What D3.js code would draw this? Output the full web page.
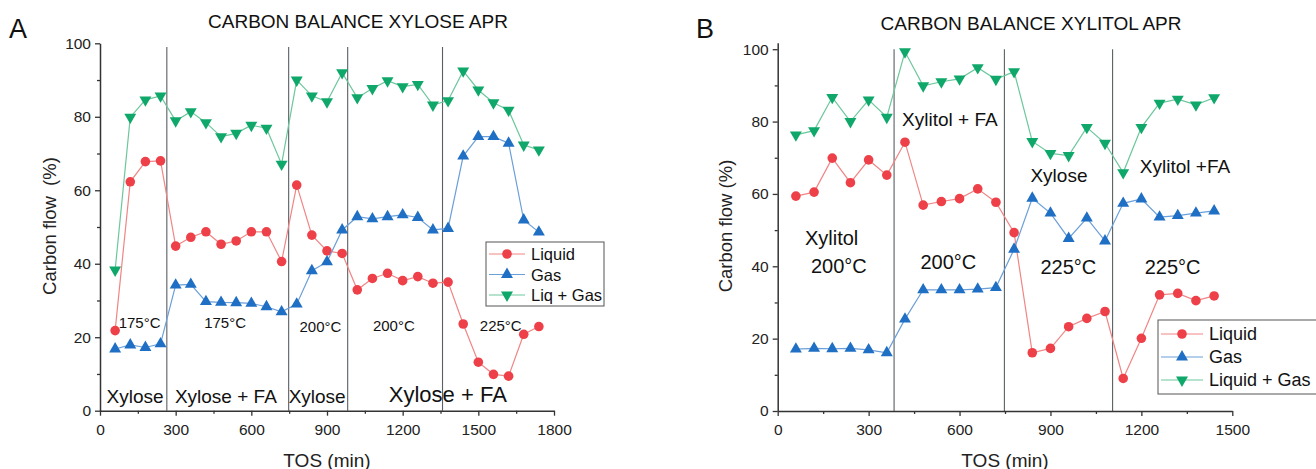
<!DOCTYPE html>
<html>
<head>
<meta charset="utf-8">
<script src="https://cdn.jsdelivr.net/npm/d3@7"></script>
<style>
  body { margin: 0; background: #fff; }
  svg { font-family: "Liberation Sans", Arial, sans-serif; }
</style>
</head>
<body>
<svg id="chart" width="1316" height="469"></svg>
<script>
// Panel A: xylose feed
const tosA = d3.range(60, 1741, 60);
const liquidA = [21.8, 62.3, 67.8, 68.0, 44.8, 47.2, 48.7, 45.3, 46.2, 48.7, 48.7, 40.6,
  61.4, 47.8, 43.5, 42.8, 32.9, 36.0, 37.4, 35.4, 36.5, 34.7, 35.0, 23.6, 13.2, 9.9, 9.4, 20.8, 22.9];
const gasA = [16.8, 17.9, 17.2, 18.2, 34.2, 34.4, 29.7, 29.5, 29.4, 29.2, 28.3, 26.9,
  29.0, 38.1, 40.5, 49.2, 52.8, 52.2, 52.8, 53.3, 52.6, 49.2, 49.6, 69.3, 74.6, 74.6, 72.8, 51.9, 48.6];
const totalA = [38.3, 79.9, 84.6, 85.7, 78.9, 81.4, 78.4, 74.6, 75.5, 77.7, 76.9, 67.1,
  90.0, 85.7, 84.1, 92.0, 85.2, 87.7, 89.8, 88.2, 88.8, 83.2, 84.4, 92.5, 87.3, 83.8, 81.8, 72.3, 71.0];
const dividersA = [265, 748, 982, 1358];
const notesA = [
  { text: "175°C", x: 157, y: 23.9, size: 15 },
  { text: "175°C", x: 496, y: 23.9, size: 15 },
  { text: "200°C", x: 874, y: 22.9, size: 15 },
  { text: "200°C", x: 1165, y: 23.3, size: 15 },
  { text: "225°C", x: 1589, y: 23.3, size: 15 },
  { text: "Xylose", x: 139, y: 3.8, size: 19 },
  { text: "Xylose + FA", x: 499, y: 3.8, size: 19 },
  { text: "Xylose", x: 861, y: 3.8, size: 19 },
  { text: "Xylose + FA", x: 1379, y: 4.3, size: 22 }
];

// Panel B: xylitol feed
const tosB = d3.range(60, 1441, 60);
const liquidB = [59.4, 60.5, 69.9, 63.1, 69.4, 65.2, 74.3, 56.9, 57.9, 58.7, 61.4, 57.7,
  49.3, 16.1, 17.3, 23.3, 25.6, 27.5, 9.0, 20.1, 32.1, 32.5, 30.5, 31.8];
const gasB = [17.1, 17.3, 17.2, 17.3, 16.9, 16.1, 25.4, 33.5, 33.5, 33.5, 33.7, 34.1,
  44.7, 58.8, 54.7, 47.7, 53.3, 47.0, 57.4, 58.6, 53.6, 54.0, 54.7, 55.3];
const totalB = [76.3, 77.5, 86.7, 80.0, 86.0, 81.2, 99.3, 89.9, 91.0, 91.8, 94.9, 91.7,
  93.8, 74.5, 71.2, 70.6, 78.4, 74.0, 65.9, 78.4, 85.1, 86.2, 84.6, 86.6];
const dividersB = [384, 748, 1105];
const notesB = [
  { text: "Xylitol", x: 178, y: 47.8, size: 20 },
  { text: "200°C", x: 202, y: 40.1, size: 20 },
  { text: "200°C", x: 563, y: 41.3, size: 20 },
  { text: "Xylitol + FA", x: 568, y: 80.5, size: 19 },
  { text: "Xylose", x: 928, y: 65.2, size: 19 },
  { text: "225°C", x: 959, y: 39.7, size: 20 },
  { text: "225°C", x: 1303, y: 39.8, size: 20 },
  { text: "Xylitol +FA", x: 1344, y: 67.5, size: 19 }
];

const styles = [
  { marker: "#ee4048", line: "#f18585", shape: "circle" },
  { marker: "#1f6fc4", line: "#6b9fd9", shape: "up" },
  { marker: "#0fa86a", line: "#6cc79c", shape: "down" }
];

const svg = d3.select("#chart");

function marker(g, shape, color) {
  if (shape === "circle") {
    return g.append("circle").attr("r", 4.8).attr("fill", color);
  }
  return g.append("path")
    .attr("d", d3.symbol(d3.symbolTriangle, 62)())
    .attr("transform", shape === "down" ? "rotate(180)" : null)
    .attr("fill", color);
}

function drawPanel(o) {
  const x = d3.scaleLinear().domain([0, o.xMax]).range(o.xRange);
  const y = d3.scaleLinear().domain([0, o.yMax]).range(o.yRange);
  const g = svg.append("g");

  // dividers between feed periods
  g.selectAll(".div").data(o.dividers).join("line")
    .attr("x1", d => x(d)).attr("x2", d => x(d))
    .attr("y1", y(o.divTop)).attr("y2", y(0))
    .attr("stroke", "#5a5f63").attr("stroke-width", 1.1);

  // axes: major + minor ticks
  const xMinor = g.append("g").attr("transform", `translate(0,${y(0)})`)
    .call(d3.axisBottom(x).tickValues(d3.range(150, o.xMax, 300)).tickSize(3).tickFormat(""));
  const xAxis = g.append("g").attr("transform", `translate(0,${y(0)})`)
    .call(d3.axisBottom(x).tickValues(d3.range(0, o.xMax + 1, 300)).tickFormat(d3.format("d"))
      .tickSize(5).tickSizeOuter(0).tickPadding(8));
  const yMinor = g.append("g").attr("transform", `translate(${x(0)},0)`)
    .call(d3.axisLeft(y).tickValues(d3.range(10, 100, 20)).tickSize(3).tickFormat(""));
  const yAxis = g.append("g").attr("transform", `translate(${x(0)},0)`)
    .call(d3.axisLeft(y).tickValues(d3.range(0, 101, 20)).tickSize(5).tickSizeOuter(0).tickPadding(4));
  [xMinor, xAxis, yMinor, yAxis].forEach(a => {
    a.selectAll("path").attr("stroke", "#333").attr("stroke-width", 1.5);
    a.selectAll("line").attr("stroke", "#333").attr("stroke-width", 1.3);
    a.selectAll("text").attr("font-size", 15.5).attr("fill", "#222").attr("font-family", null);
  });
  xMinor.select("path").remove();
  yMinor.select("path").remove();

  // series
  o.series.forEach((vals, i) => {
    const st = styles[i];
    const pts = vals.map((v, j) => [o.tos[j], v]);
    g.append("path").datum(pts)
      .attr("fill", "none").attr("stroke", st.line).attr("stroke-width", 1.2)
      .attr("d", d3.line().x(d => x(d[0])).y(d => y(d[1])));
    pts.forEach(d => {
      const m = g.append("g").attr("transform", `translate(${x(d[0])},${y(d[1])})`);
      marker(m, st.shape, st.marker);
    });
  });

  // annotations
  g.selectAll(".note").data(o.notes).join("text")
    .attr("x", d => x(d.x)).attr("y", d => y(d.y))
    .attr("text-anchor", "middle").attr("dominant-baseline", "central")
    .attr("font-size", d => d.size).attr("fill", "#111")
    .text(d => d.text);

  // title, panel letter, axis labels
  svg.append("text").attr("x", o.titleX).attr("y", o.titleY)
    .attr("text-anchor", "middle").attr("dominant-baseline", "central")
    .attr("font-size", 19).attr("fill", "#111").text(o.title);
  svg.append("text").attr("x", o.letterX).attr("y", 38)
    .attr("font-size", 27).attr("fill", "#111").text(o.letter);
  svg.append("text").attr("x", (o.xRange[0] + o.xRange[1]) / 2).attr("y", 460)
    .attr("text-anchor", "middle").attr("dominant-baseline", "central")
    .attr("font-size", 19).attr("fill", "#222").text("TOS (min)");
  svg.append("text")
    .attr("transform", `translate(${o.yLabelX},226) rotate(-90)`)
    .attr("text-anchor", "middle").attr("dominant-baseline", "central")
    .attr("font-size", 18.5).attr("fill", "#222").attr("xml:space", "preserve")
    .text(o.yLabel);

  // legend
  const lg = svg.append("g").attr("transform", `translate(${o.legend.x},${o.legend.y})`);
  lg.append("rect").attr("width", o.legend.w).attr("height", o.legend.h)
    .attr("fill", "#fff").attr("stroke", "#555").attr("stroke-width", 1);
  o.legend.labels.forEach((lab, i) => {
    const st = styles[i];
    const cy = o.legend.pad + i * o.legend.gap;
    lg.append("line").attr("x1", 3).attr("x2", o.legend.lineW + 3)
      .attr("y1", cy).attr("y2", cy).attr("stroke", st.line).attr("stroke-width", 1.2);
    const m = lg.append("g").attr("transform", `translate(${3 + o.legend.lineW / 2},${cy})`);
    marker(m, st.shape, st.marker);
    lg.append("text").attr("x", o.legend.lineW + 9).attr("y", cy)
      .attr("dominant-baseline", "central").attr("font-size", o.legend.font)
      .attr("fill", "#111").text(lab);
  });
}

drawPanel({
  tos: tosA, series: [liquidA, gasA, totalA],
  xMax: 1800, xRange: [100, 554], yMax: 100, yRange: [410.7, 43.3],
  dividers: dividersA, divTop: 99, notes: notesA,
  title: "CARBON BALANCE XYLOSE APR", titleX: 358, titleY: 21,
  letter: "A", letterX: 9, yLabelX: 49, yLabel: "Carbon flow  (%)",
  legend: { x: 486, y: 242, w: 118, h: 64, pad: 12, gap: 20.5, lineW: 36, font: 16.5,
    labels: ["Liquid", "Gas", "Liq + Gas"] }
});

drawPanel({
  tos: tosB, series: [liquidB, gasB, totalB],
  xMax: 1500, xRange: [777.7, 1232.3], yMax: 101.8, yRange: [411, 42.7],
  dividers: dividersB, divTop: 100, notes: notesB,
  title: "CARBON BALANCE XYLITOL APR", titleX: 1031, titleY: 23,
  letter: "B", letterX: 696, yLabelX: 725, yLabel: "Carbon flow (%)",
  legend: { x: 1158, y: 320, w: 165, h: 74, pad: 14, gap: 23, lineW: 42, font: 18,
    labels: ["Liquid", "Gas", "Liquid + Gas"] }
});
</script>
</body>
</html>
